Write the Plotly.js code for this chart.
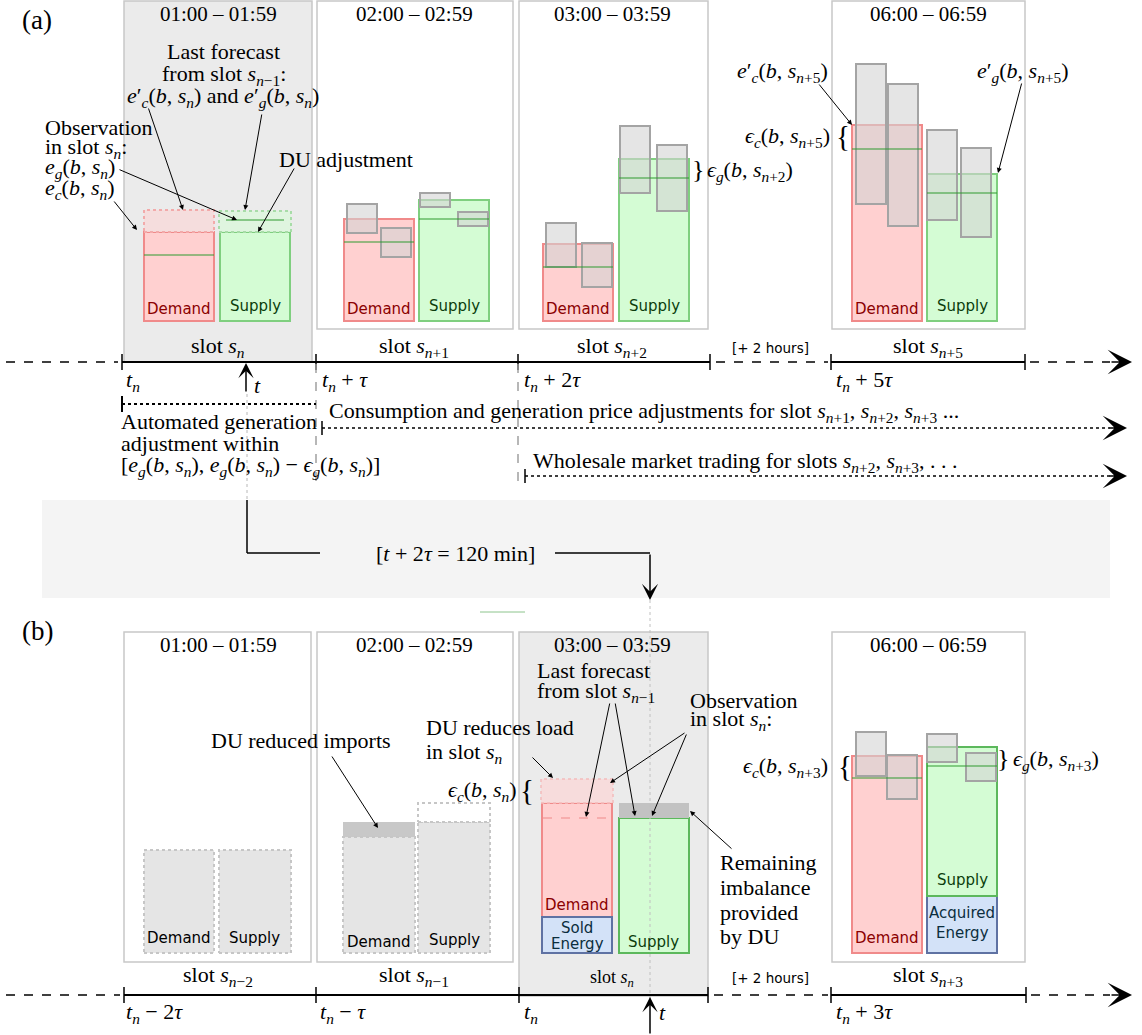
<!DOCTYPE html>
<html><head><meta charset="utf-8">
<script src="https://cdn.plot.ly/plotly-3.0.1.min.js"></script>
<style>html,body{margin:0;padding:0;background:#fff;}#chart{width:1142px;height:1035px;}</style>
</head><body><div id="chart"></div>
<script>
// ================= DATA (energy levels, arbitrary units) =================
// Panel (a): slots s_n, s_n+1, s_n+2, s_n+5
const timeLabelsA = ['01:00 – 01:59', '02:00 – 02:59', '03:00 – 03:59', '06:00 – 06:59'];
const demandA = [89, 102, 77, 196];
const supplyA = [89, 121, 162, 147];
const demandLineA = [66, 79, 54, 172];
const supplyLineA = [101, 102, 143, 128];
const demandForecastSn = 111;
const supplyForecastSn = 110;
// forecast ranges (low / high) for slots s_n+1, s_n+2, s_n+5
const demFc1LowA = [88, 54, 117], demFc1HighA = [117, 98, 257];
const demFc2LowA = [64, 34, 95],  demFc2HighA = [93, 78, 237];
const supFc1LowA = [114, 128, 101], supFc1HighA = [128, 195, 191];
const supFc2LowA = [95, 110, 84],  supFc2HighA = [109, 176, 173];

// Panel (b): slots s_n-2, s_n-1, s_n, s_n+3
const timeLabelsB = ['01:00 – 01:59', '02:00 – 02:59', '03:00 – 03:59', '06:00 – 06:59'];
const demandB = [103, 116, 114, 197];
const supplyB = [103, 131, 135, 149];
const soldEnergyB = 36;          // slot s_n
const acquiredEnergyB = 57;      // slot s_n+3
const reducedImportsB = 15;      // slot s_n-1
const supplyForecastCapB = 19;   // slot s_n-1
const loadReductionB = 24;       // slot s_n
const duImbalanceB = 15;         // slot s_n
const demandForecastLineB = 135; // slot s_n
const demandLineB = 175, supplyLineB = 187; // slot s_n+3
const demFcLowB = [177, 154], demFcHighB = [221, 198];
const supFcLowB = [191, 172], supFcHighB = [219, 200];

// ================= LAYOUT CONSTANTS (positions in px) =================
const BAR_W = 70, FC_W = 30;
const demXA = [179, 379, 578, 887], supXA = [255, 454, 654, 962];
const demFc1XA = [362, 561, 871], demFc2XA = [396, 597, 903];
const supFc1XA = [435, 635, 942], supFc2XA = [473, 672, 976];
const demXB = [179, 379, 577, 887], supXB = [255, 454, 654, 962];
const demFcXB = [871, 902], supFcXB = [942, 981];
const titleX = [218, 414, 612, 928];

const SERIF = '"Liberation Serif", "DejaVu Serif", serif';
const SANS = '"DejaVu Sans", sans-serif';
const FS = 22, FT = 21, FL = 15;
const PINK = '#ffd0d0', PINK_L = '#f08a8a', GREEN = '#d4fcd4', GREEN_L = '#7fcf7f';
const BLUE = '#d3e2f8', BLUE_L = '#5f72a3', FC_FILL = 'rgba(212,212,212,0.6)', FC_LINE = '#a4a4a4';
const DARKRED = '#8b0000', DARKGREEN = '#0b3d0b', DARKBLUE = '#0b2e3e';

const traces = [], shapes = [], annotations = [];

function T(x, y, text, o = {}) {
  annotations.push({x, y, xref: 'x', yref: 'y', text, showarrow: false,
    xanchor: o.xa || 'center', yanchor: 'middle',
    font: {family: o.f || SERIF, size: o.s || FS, color: o.c || '#000'}});
}
function A(x0, y0, x1, y1, o = {}) {
  annotations.push({x: x1, y: y1, ax: x0, ay: y0, xref: 'x', yref: 'y', axref: 'x', ayref: 'y',
    text: '', showarrow: true, arrowhead: o.h || 2, arrowsize: o.s || 1, arrowwidth: o.w || 1,
    arrowcolor: '#000'});
}
function L(x0, y0, x1, y1, o = {}) {
  shapes.push({type: 'line', xref: 'x', yref: 'y', x0, y0, x1, y1,
    line: {color: o.c || '#000', width: o.w || 1, dash: o.d || 'solid'}, layer: o.layer || 'above'});
}
function R(x0, y0, x1, y1, fill, line) {
  shapes.push({type: 'rect', xref: 'x', yref: 'y', x0, y0, x1, y1, fillcolor: fill,
    line: {color: line || 'rgba(0,0,0,0)', width: line ? 1.5 : 0}, layer: 'below'});
}
function bar(xs, bases, heights, width, fill, line, lw, ax) {
  traces.push({type: 'bar', x: xs, y: heights, base: bases, width: width, xaxis: 'x', yaxis: ax,
    marker: {color: fill, line: {color: line, width: lw}}, hoverinfo: 'skip', showlegend: false});
}
function polys(rects, fill, line, dash, ax, lw) {
  const x = [], y = [];
  rects.forEach(([xc, w, y0, y1]) => {
    x.push(xc - w / 2, xc + w / 2, xc + w / 2, xc - w / 2, xc - w / 2, null);
    y.push(y0, y0, y1, y1, y0, null);
  });
  traces.push({type: 'scatter', mode: 'lines', x, y, xaxis: 'x', yaxis: ax, fill: fill ? 'toself' : 'none',
    fillcolor: fill || 'rgba(0,0,0,0)', line: {color: line || 'rgba(0,0,0,0)', width: lw || 2, dash: dash || 'solid'},
    hoverinfo: 'skip', showlegend: false});
}
function hlines(segs, color, ax, dash, w) {
  const x = [], y = [];
  segs.forEach(([xc, wd, v]) => { x.push(xc - wd / 2, xc + wd / 2, null); y.push(v, v, null); });
  traces.push({type: 'scatter', mode: 'lines', x, y, xaxis: 'x', yaxis: ax,
    line: {color, width: w || 1.2, dash: dash || 'solid'}, hoverinfo: 'skip', showlegend: false});
}

// math helpers
const sn = k => `<i>s</i><sub><i>n</i>${k}</sub>`;
const fx = (sym, idx, prime, k) => `<i>${sym}</i>${prime ? '′' : ''}<sub><i>${idx}</i></sub>(<i>b</i>, ${sn(k)})`;
const tn = rest => `<i>t</i><sub><i>n</i></sub>${rest}`;

// ================= PANEL (a) =================
R(124, 1, 312, 362, '#ebebeb', '#c8c8c8');
R(317, 1, 513, 329, '#ffffff', '#c8c8c8');
R(519, 1, 708, 329, '#ffffff', '#c8c8c8');
R(832, 1, 1025, 329, '#ffffff', '#c8c8c8');

polys([[demXA[0], BAR_W, demandA[0], demandForecastSn]], 'rgba(246,220,220,0.9)', '#f2aaaa', 'dot', 'y2');
polys([[supXA[0], BAR_W + 2, supplyA[0], supplyForecastSn]], 'rgba(222,246,222,0.9)', '#a8dca8', 'dot', 'y2');
bar(demXA, demandA.map(() => 0), demandA, BAR_W, PINK, PINK_L, 2, 'y2');
bar(supXA, supplyA.map(() => 0), supplyA, BAR_W, GREEN, GREEN_L, 2, 'y2');
bar(demFc1XA.concat(demFc2XA, supFc1XA, supFc2XA), demFc1LowA.concat(demFc2LowA, supFc1LowA, supFc2LowA),
  demFc1HighA.map((h, i) => h - demFc1LowA[i]).concat(
    demFc2HighA.map((h, i) => h - demFc2LowA[i]),
    supFc1HighA.map((h, i) => h - supFc1LowA[i]),
    supFc2HighA.map((h, i) => h - supFc2LowA[i])), FC_W, FC_FILL, FC_LINE, 2, 'y2');
hlines(demXA.map((x, i) => [x, BAR_W, demandLineA[i]]).concat([[supXA[0], 58, supplyLineA[0]]],
  supXA.slice(1).map((x, i) => [x, BAR_W, supplyLineA[i + 1]])), '#2f9a2f', 'y2');

timeLabelsA.forEach((t, i) => T(titleX[i], 14, t, {s: FT}));
T(20, 20, '(a)', {xa: 'left', s: 27});
demXA.forEach(x => T(x, 309, 'Demand', {f: SANS, s: FL, c: DARKRED}));
supXA.forEach(x => T(x, 306, 'Supply', {f: SANS, s: FL, c: DARKGREEN}));

T(223, 51, 'Last forecast');
T(224, 75, 'from slot ' + sn('−1') + ':');
T(223, 97, fx('e', 'c', 1, '') + ' and ' + fx('e', 'g', 1, ''));
T(43, 127, 'Observation', {xa: 'left'});
T(43, 148, 'in slot ' + sn('') + ':', {xa: 'left'});
T(43, 168, fx('e', 'g', 0, ''), {xa: 'left'});
T(43, 189, fx('e', 'c', 0, ''), {xa: 'left'});
T(277, 159, 'DU adjustment', {xa: 'left'});
T(698, 169, '}', {s: 26});
T(705, 171, fx('ϵ', 'g', 0, '+2'), {xa: 'left'});
T(830, 72, fx('e', 'c', 1, '+5'), {xa: 'right'});
T(832, 137, fx('ϵ', 'c', 0, '+5'), {xa: 'right'});
T(843, 136, '{', {s: 29});
T(975, 72, fx('e', 'g', 1, '+5'), {xa: 'left'});

A(113, 200, 137, 230);
A(148, 107, 183, 210);
A(262, 113, 245, 210);
A(118, 169, 237, 220);
A(295, 167, 258, 232);
A(818, 83, 852, 125);
A(1022, 82, 998, 173);

function timeline(y, ticks, solid, dashed) {
  solid.forEach(([a, b]) => L(a, y, b, y, {w: 2}));
  dashed.forEach(([a, b]) => L(a, y, b, y, {w: 1.5, d: 'dash'}));
  ticks.forEach(x => L(x, y - 8, x, y + 8, {w: 1.5}));
  A(1110, y, 1132, y, {h: 3, s: 2.7, w: 1.5});
}
timeline(362, [122, 316, 518, 710, 831, 1025], [[122, 710], [831, 1025]], [[6, 118], [716, 828], [1030, 1110]]);
T(218, 347, 'slot ' + sn(''));
T(414, 347, 'slot ' + sn('+1'));
T(612, 347, 'slot ' + sn('+2'));
T(770, 348, '[+ 2 hours]', {f: SANS, s: 13.5});
T(928, 347, 'slot ' + sn('+5'));
T(124, 381, tn(''), {xa: 'left'});
T(320, 381, tn(' + <i>τ</i>'), {xa: 'left'});
T(522, 381, tn(' + 2<i>τ</i>'), {xa: 'left'});
T(834, 381, tn(' + 5<i>τ</i>'), {xa: 'left'});
A(246, 393, 246, 363, {h: 3, s: 1.7, w: 1.5});
T(252, 385, '<i>t</i>', {xa: 'left'});

L(316, 364, 316, 490, {c: '#a0a0a0', w: 1.5, d: 'dash'});
L(518, 364, 518, 490, {c: '#a0a0a0', w: 1.5, d: 'dash'});
L(247, 394, 247, 500, {c: '#b8b8b8', w: 1, d: 'dot'});

L(122, 404, 316, 404, {w: 2, d: 'dot'});
L(122, 396, 122, 412, {w: 2});
T(119, 421, 'Automated generation', {xa: 'left'});
T(119, 443, 'adjustment within', {xa: 'left'});
T(119, 466, '[' + fx('e', 'g', 0, '') + ', ' + fx('e', 'g', 0, '') + ' − ' + fx('ϵ', 'g', 0, '') + ']', {xa: 'left'});
T(327, 412, 'Consumption and generation price adjustments for slot ' + sn('+1') + ', ' + sn('+2') + ', ' + sn('+3') + ' ...', {xa: 'left'});
L(322, 428, 1110, 428, {w: 1.5, d: 'dot'});
L(322, 421, 322, 435, {w: 1.5});
A(1108, 428, 1127, 428, {h: 3, s: 2.7, w: 1.5});
T(531, 462, 'Wholesale market trading for slots ' + sn('+2') + ', ' + sn('+3') + ', . . .', {xa: 'left'});
L(525, 476, 1110, 476, {w: 1.5, d: 'dot'});
L(525, 469, 525, 483, {w: 1.5});
A(1108, 476, 1127, 476, {h: 3, s: 2.7, w: 1.5});

// ================= BAND =================
R(42, 500, 1110, 598, '#f4f4f4', null);
L(247, 500, 247, 553, {w: 1.5});
L(247, 553, 320, 553, {w: 1.5});
T(455, 553, '[<i>t</i> + 2<i>τ</i> = 120 min]');
L(555, 553, 650, 553, {w: 1.5});
A(650, 553, 650, 600, {h: 3, s: 1.8, w: 1.5});
L(480, 612, 525, 612, {c: '#8cc48c', w: 1});
L(650, 600, 650, 1000, {c: '#c0c0c0', w: 1, d: 'dot'});

// ================= PANEL (b) =================
R(124, 632, 311, 962, '#ffffff', '#c8c8c8');
R(317, 632, 513, 962, '#ffffff', '#c8c8c8');
R(519, 632, 708, 996, '#ebebeb', '#c8c8c8');
R(832, 632, 1025, 962, '#ffffff', '#c8c8c8');

polys([[demXB[0], BAR_W, 0, demandB[0]], [supXB[0], 72, 0, supplyB[0]],
       [demXB[1], 72, 0, demandB[1]], [supXB[1], 72, 0, supplyB[1]]], '#e5e5e5', '#c6c6c6', 'dot', 'y3');
polys([[supXB[1], 72, supplyB[1], supplyB[1] + supplyForecastCapB]], '#ffffff', '#c6c6c6', 'dot', 'y3');
bar([demXB[1]], [demandB[1]], [reducedImportsB], 72, '#c8c8c8', '#c8c8c8', 0, 'y3');
polys([[demXB[2], 72, soldEnergyB + demandB[2], soldEnergyB + demandB[2] + loadReductionB]],
  'rgba(248,218,218,0.9)', '#f4bcbc', 'dot', 'y3', 1.5);
bar([demXB[2], demXB[3]], [soldEnergyB, 0], [demandB[2], demandB[3]], BAR_W, PINK, PINK_L, 2, 'y3');
bar([supXB[2]], [0], [supplyB[2]], BAR_W, GREEN, '#5cb85c', 2, 'y3');
bar([supXB[2]], [supplyB[2]], [duImbalanceB], BAR_W, '#c2c2c2', '#c2c2c2', 0, 'y3');
bar([demXB[2], supXB[3]], [0, 0], [soldEnergyB, acquiredEnergyB], BAR_W, BLUE, BLUE_L, 2, 'y3');
bar([supXB[3]], [acquiredEnergyB], [supplyB[3]], BAR_W, GREEN, '#5cb85c', 2, 'y3');
hlines([[demXB[2], 68, demandForecastLineB]], '#f08a8a', 'y3', 'dash', 1.2);
bar(demFcXB.concat(supFcXB), demFcLowB.concat(supFcLowB),
  demFcHighB.map((h, i) => h - demFcLowB[i]).concat(supFcHighB.map((h, i) => h - supFcLowB[i])),
  FC_W, FC_FILL, FC_LINE, 2, 'y3');
hlines([[demXB[3], BAR_W, demandLineB], [supXB[3], BAR_W, supplyLineB]], '#2f9a2f', 'y3');

timeLabelsB.forEach((t, i) => T(titleX[i], 645, t, {s: FT}));
T(20, 631, '(b)', {xa: 'left', s: 27});
T(179, 938, 'Demand', {f: SANS, s: FL});
T(254, 938, 'Supply', {f: SANS, s: FL});
T(379, 942, 'Demand', {f: SANS, s: FL});
T(454, 940, 'Supply', {f: SANS, s: FL});
T(577, 905, 'Demand', {f: SANS, s: FL, c: DARKRED});
T(577, 928, 'Sold', {f: SANS, s: FL, c: DARKBLUE});
T(577, 944, 'Energy', {f: SANS, s: FL, c: DARKBLUE});
T(653, 942, 'Supply', {f: SANS, s: FL, c: DARKGREEN});
T(887, 938, 'Demand', {f: SANS, s: FL, c: DARKRED});
T(962, 880, 'Supply', {f: SANS, s: FL, c: DARKGREEN});
T(962, 913, 'Acquired', {f: SANS, s: FL, c: DARKBLUE});
T(962, 933, 'Energy', {f: SANS, s: FL, c: DARKBLUE});

T(301, 740, 'DU reduced imports');
A(331, 755, 378, 828);
T(424, 727, 'DU reduces load', {xa: 'left'});
T(424, 753, 'in slot ' + sn(''), {xa: 'left'});
A(531, 756, 553, 778);
T(519, 791, fx('ϵ', 'c', 0, ''), {xa: 'right'});
T(527, 790, '{', {s: 29});
T(535, 670, 'Last forecast', {xa: 'left'});
T(535, 692, 'from slot ' + sn('−1'), {xa: 'left'});
A(610, 702, 586, 817);
A(615, 702, 635, 816);
T(688, 700, 'Observation', {xa: 'left'});
T(688, 720, 'in slot ' + sn('') + ':', {xa: 'left'});
A(686, 732, 610, 783);
A(687, 733, 652, 816);
T(718, 862, 'Remaining', {xa: 'left'});
T(718, 887, 'imbalance', {xa: 'left'});
T(718, 912, 'provided', {xa: 'left'});
T(718, 936, 'by DU', {xa: 'left'});
A(733, 850, 690, 811);
T(830, 767, fx('ϵ', 'c', 0, '+3'), {xa: 'right'});
T(845, 766, '{', {s: 29});
T(1003, 758, '}', {s: 26});
T(1011, 760, fx('ϵ', 'g', 0, '+3'), {xa: 'left'});

timeline(995, [124, 316, 519, 708, 831, 1026], [[124, 708], [831, 1026]], [[6, 120], [714, 828], [1031, 1110]]);
T(218, 976, 'slot ' + sn('−2'));
T(414, 976, 'slot ' + sn('−1'));
T(612, 978, 'slot ' + sn(''), {s: 18});
T(770, 978, '[+ 2 hours]', {f: SANS, s: 13.5});
T(928, 976, 'slot ' + sn('+3'));
T(124, 1013, tn(' − 2<i>τ</i>'), {xa: 'left'});
T(318, 1013, tn(' − <i>τ</i>'), {xa: 'left'});
T(522, 1013, tn(''), {xa: 'left'});
T(834, 1013, tn(' + 3<i>τ</i>'), {xa: 'left'});
A(650, 1035, 650, 997, {h: 3, s: 1.7, w: 1.5});
T(657, 1012, '<i>t</i>', {xa: 'left'});

const layout = {
  width: 1142, height: 1035, margin: {l: 0, r: 0, t: 0, b: 0},
  paper_bgcolor: '#ffffff', plot_bgcolor: 'rgba(0,0,0,0)',
  showlegend: false, barmode: 'overlay',
  xaxis: {range: [0, 1142], visible: false, fixedrange: true},
  yaxis: {range: [1035, 0], visible: false, fixedrange: true},
  yaxis2: {range: [-714, 321], overlaying: 'y', anchor: 'x', visible: false, fixedrange: true},
  yaxis3: {range: [-82, 953], overlaying: 'y', anchor: 'x', visible: false, fixedrange: true},
  shapes, annotations
};
Plotly.newPlot('chart', traces, layout, {staticPlot: true, displayModeBar: false});
</script></body></html>
